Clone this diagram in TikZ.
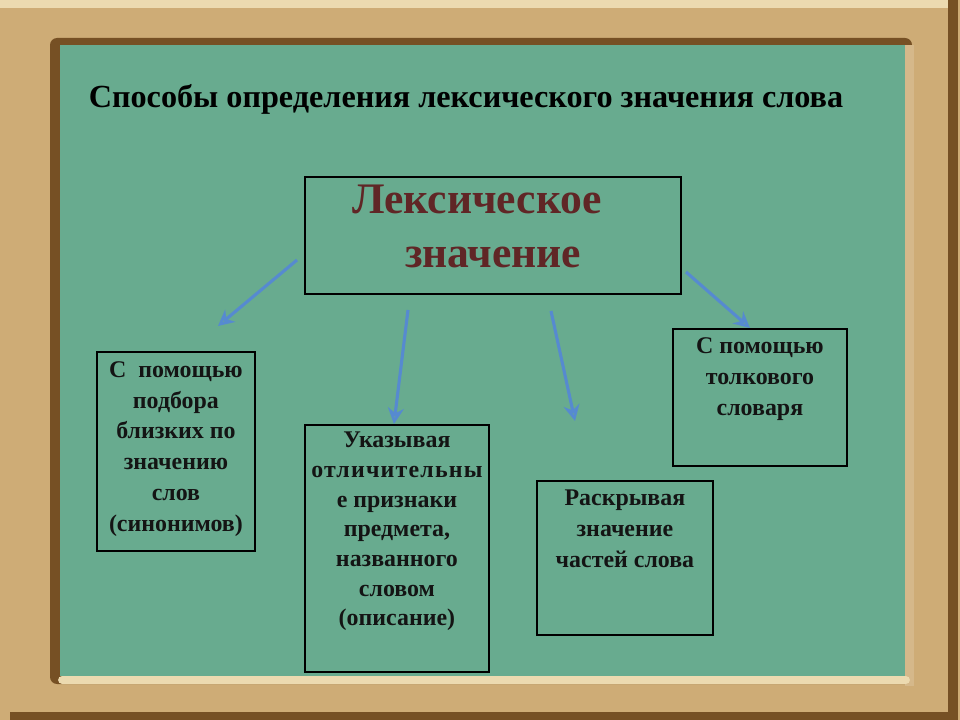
\documentclass[tikz,border=0pt]{standalone}
\usepackage{fontspec}
\setmainfont{Liberation Serif}
\usetikzlibrary{arrows.meta}
\definecolor{wood}{RGB}{206,172,118}
\definecolor{woodlight}{RGB}{236,218,176}
\definecolor{woodedge}{RGB}{118,80,36}
\definecolor{board}{RGB}{104,171,143}
\definecolor{chalkred}{RGB}{96,38,38}
\definecolor{arrowblue}{RGB}{86,138,208}

\begin{document}
\begin{tikzpicture}[x=0.025cm,y=-0.025cm,
  way/.style={draw=black,line width=1.3pt,anchor=north west,inner sep=0pt},
  waytext/.style={anchor=north,align=center,inner sep=0pt,text=black!92,
    font=\bfseries\fontsize{17}{22}\selectfont},
  pointer/.style={draw=arrowblue,line width=2.2pt,
    -{Stealth[open,length=4mm,width=4mm]}}]

\useasboundingbox (0,0) rectangle (960,720);

\fill[wood] (0,0) rectangle (960,720);
\fill[woodlight] (0,0) rectangle (948,8);
\fill[woodedge] (948,0) rectangle (958,720);
\fill[woodedge] (10,712) rectangle (958,720);
\fill[woodedge,rounded corners=5pt] (50,38) rectangle (912,684);
\fill[wood!85!white] (905,45) rectangle (914,686);
\fill[board] (60,45) rectangle (905,676);
\fill[woodlight,rounded corners=3pt] (58,676) rectangle (910,684);

\node[anchor=base,font=\bfseries\fontsize{22.9}{27}\selectfont] (title) at (466,108)
  {Способы определения лексического значения слова};

\node[way,minimum width=9.4cm,minimum height=2.925cm] (lex) at (304,176) {};
\node[anchor=base west,align=left,inner sep=0pt,text=chalkred,
  font=\bfseries\fontsize{31}{38.5}\selectfont] (lext) at (352,268)
  {Лексическое\\\hspace{1.32cm}значение};

\node[way,minimum width=3.95cm,minimum height=4.975cm] (b1) at (96,351) {};
\node[waytext] (b1t) at ([yshift=-0.25cm]b1.north)
  {С~~помощью\\подбора\\близких по\\значению\\слов\\(синонимов)};

\node[way,minimum width=4.6cm,minimum height=6.175cm] (b2) at (304,424) {};
\node[waytext,font=\bfseries\fontsize{17}{21.1}\selectfont] (b2t) at ([yshift=-0.2cm]b2.north)
  {Указывая\\{\addfontfeature{LetterSpace=5}отличительны}\\е признаки\\предмета,\\названного\\словом\\(описание)};

\node[way,minimum width=4.4cm,minimum height=3.85cm] (b3) at (536,480) {};
\node[waytext] (b3t) at ([yshift=-0.25cm]b3.north)
  {Раскрывая\\значение\\частей слова};

\node[way,minimum width=4.35cm,minimum height=3.425cm] (b4) at (672,328) {};
\node[waytext] (b4t) at ([yshift=-0.23cm]b4.north)
  {С помощью\\толкового\\словаря};

\coordinate (a1s) at (297,260);
\coordinate (a1e) at (218,326);
\coordinate (a2s) at (408,310);
\coordinate (a3s) at (551,311);
\coordinate (a3e) at (575,421);
\coordinate (a4s) at (686,272);

\draw[pointer] (a1s) -- (a1e);
\draw[pointer] (a2s) -- ([xshift=-0.075cm]b2.north);
\draw[pointer] (a3s) -- (a3e);
\draw[pointer] (a4s) -- ([xshift=-0.25cm]b4.north);
\end{tikzpicture}
\end{document}
